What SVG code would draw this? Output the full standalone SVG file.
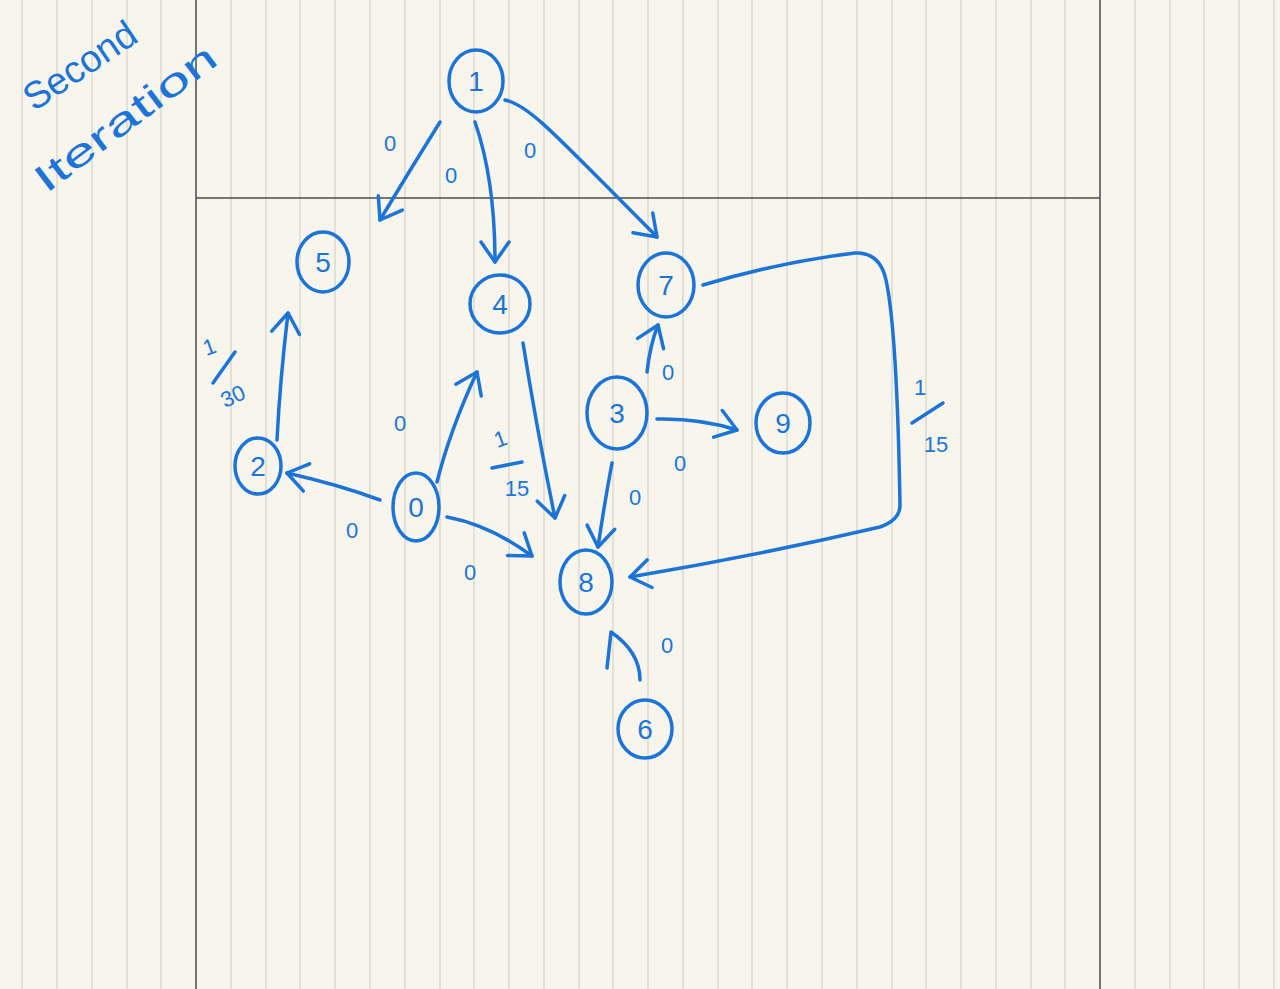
<svg xmlns="http://www.w3.org/2000/svg" width="1280" height="989" viewBox="0 0 1280 989">
<defs>
<style>
.paper{fill:#f8f6ec}
.rule{stroke:#dcd8cc;stroke-width:1.5}
.frame{stroke:#4a4a4a;stroke-width:1.5}
.ink{stroke:#1b74d6;stroke-width:3.5;fill:none;stroke-linecap:round;stroke-linejoin:round}
.node{stroke:#1b74d6;stroke-width:3.5;fill:none}
.nt{font-family:"Liberation Sans",Arial,sans-serif;font-size:28px;fill:#1b74d6;text-anchor:middle}
.lt{font-family:"Liberation Sans",Arial,sans-serif;font-size:22px;fill:#1b74d6;text-anchor:middle}
.title{font-family:"Liberation Sans",Arial,sans-serif;font-size:38px;fill:#1b74d6}
</style>
<marker id="ah" viewBox="-26 -18 30 36" refX="0" refY="0" markerWidth="30" markerHeight="36" markerUnits="userSpaceOnUse" orient="auto">
<path d="M-20,-14 L0,0 L-20,14" fill="none" stroke="#1b74d6" stroke-width="3.5" stroke-linecap="round" stroke-linejoin="round"/>
</marker>
</defs>
<g id="paper">
<rect class="paper" x="0" y="0" width="1280" height="989"/>
<g class="rule">
<line x1="22" y1="0" x2="22" y2="989"/>
<line x1="57" y1="0" x2="57" y2="989"/>
<line x1="92" y1="0" x2="92" y2="989"/>
<line x1="127" y1="0" x2="127" y2="989"/>
<line x1="161" y1="0" x2="161" y2="989"/>
<line x1="231" y1="0" x2="231" y2="989"/>
<line x1="266" y1="0" x2="266" y2="989"/>
<line x1="300" y1="0" x2="300" y2="989"/>
<line x1="335" y1="0" x2="335" y2="989"/>
<line x1="370" y1="0" x2="370" y2="989"/>
<line x1="405" y1="0" x2="405" y2="989"/>
<line x1="440" y1="0" x2="440" y2="989"/>
<line x1="474" y1="0" x2="474" y2="989"/>
<line x1="509" y1="0" x2="509" y2="989"/>
<line x1="544" y1="0" x2="544" y2="989"/>
<line x1="579" y1="0" x2="579" y2="989"/>
<line x1="613" y1="0" x2="613" y2="989"/>
<line x1="648" y1="0" x2="648" y2="989"/>
<line x1="683" y1="0" x2="683" y2="989"/>
<line x1="718" y1="0" x2="718" y2="989"/>
<line x1="752" y1="0" x2="752" y2="989"/>
<line x1="787" y1="0" x2="787" y2="989"/>
<line x1="822" y1="0" x2="822" y2="989"/>
<line x1="857" y1="0" x2="857" y2="989"/>
<line x1="892" y1="0" x2="892" y2="989"/>
<line x1="926" y1="0" x2="926" y2="989"/>
<line x1="961" y1="0" x2="961" y2="989"/>
<line x1="996" y1="0" x2="996" y2="989"/>
<line x1="1031" y1="0" x2="1031" y2="989"/>
<line x1="1065" y1="0" x2="1065" y2="989"/>
<line x1="1135" y1="0" x2="1135" y2="989"/>
<line x1="1170" y1="0" x2="1170" y2="989"/>
<line x1="1204" y1="0" x2="1204" y2="989"/>
<line x1="1239" y1="0" x2="1239" y2="989"/>
<line x1="1274" y1="0" x2="1274" y2="989"/>
</g>
<g class="frame">
<line x1="196" y1="0" x2="196" y2="989"/>
<line x1="1100" y1="0" x2="1100" y2="989"/>
<line x1="196" y1="198" x2="1100" y2="198"/>
</g>
</g>
<g id="title">
<text class="title" transform="translate(34,112) rotate(-34)" textLength="128" lengthAdjust="spacingAndGlyphs">Second</text>
<text class="title" transform="translate(46,194) rotate(-37)" textLength="218" lengthAdjust="spacingAndGlyphs">Iteration</text>
</g>
<g id="connectors">
<path class="ink" marker-end="url(#ah)" d="M440,122 Q410,170 380,220"/>
<path class="ink" marker-end="url(#ah)" d="M475,122 Q495,180 495,262"/>
<path class="ink" marker-end="url(#ah)" d="M505,100 C530,105 560,140 657,237"/>
<path class="ink" marker-end="url(#ah)" d="M277,440 Q280,380 288,313"/>
<path class="ink" marker-end="url(#ah)" d="M380,500 Q340,485 287,473"/>
<path class="ink" marker-end="url(#ah)" d="M437,482 Q450,430 477,372"/>
<path class="ink" marker-end="url(#ah)" d="M523,343 Q537,430 555,518"/>
<path class="ink" marker-end="url(#ah)" d="M447,517 Q490,525 532,556"/>
<path class="ink" marker-end="url(#ah)" d="M647,372 Q650,345 658,325"/>
<path class="ink" marker-end="url(#ah)" d="M657,419 Q700,418 737,430"/>
<path class="ink" marker-end="url(#ah)" d="M612,463 Q605,500 598,547"/>
<path class="ink" marker-end="url(#ah)" d="M703,285 Q780,262 855,253 Q880,252 886,280 Q897,330 900,505 Q900,520 880,527 Q760,555 630,577"/>
<path class="ink" d="M607,668 L611,632 Q640,652 640,680"/>
</g>
<g id="edge-labels">
<text class="lt" x="390" y="151">0</text>
<text class="lt" x="451" y="183">0</text>
<text class="lt" x="530" y="158">0</text>
<text class="lt" x="400" y="431">0</text>
<text class="lt" x="352" y="538">0</text>
<text class="lt" x="470" y="580">0</text>
<text class="lt" x="668" y="380">0</text>
<text class="lt" x="680" y="471">0</text>
<text class="lt" x="635" y="505">0</text>
<text class="lt" x="667" y="653">0</text>
<g id="w-2-5">
<text class="lt" transform="translate(212,354) rotate(-20)">1</text>
<path class="ink" d="M235,352 L213,383"/>
<text class="lt" transform="translate(236,403) rotate(-25)">30</text>
</g>
<g id="w-4-8">
<text class="lt" transform="translate(503,446) rotate(-20)">1</text>
<path class="ink" d="M492,468 L522,462"/>
<text class="lt" x="517" y="496">15</text>
</g>
<g id="w-7-8">
<text class="lt" x="920" y="395">1</text>
<path class="ink" d="M943,403 L912,423"/>
<text class="lt" x="936" y="452">15</text>
</g>
</g>
<g id="node-1"><ellipse class="node" cx="476" cy="81" rx="27" ry="31"/><text class="nt" x="476" y="91">1</text></g>
<g id="node-5"><ellipse class="node" cx="323" cy="262" rx="26" ry="30"/><text class="nt" x="323" y="272">5</text></g>
<g id="node-4"><ellipse class="node" cx="500" cy="304" rx="30" ry="29"/><text class="nt" x="500" y="314">4</text></g>
<g id="node-7"><ellipse class="node" cx="666" cy="285" rx="28" ry="32"/><text class="nt" x="666" y="295">7</text></g>
<g id="node-3"><ellipse class="node" cx="617" cy="413" rx="30" ry="36"/><text class="nt" x="617" y="423">3</text></g>
<g id="node-9"><ellipse class="node" cx="783" cy="423" rx="27" ry="30"/><text class="nt" x="783" y="433">9</text></g>
<g id="node-2"><ellipse class="node" cx="258" cy="466" rx="23" ry="28"/><text class="nt" x="258" y="476">2</text></g>
<g id="node-0"><ellipse class="node" cx="416" cy="507" rx="23" ry="34"/><text class="nt" x="416" y="517">0</text></g>
<g id="node-8"><ellipse class="node" cx="586" cy="582" rx="26" ry="32"/><text class="nt" x="586" y="592">8</text></g>
<g id="node-6"><ellipse class="node" cx="645" cy="729" rx="27" ry="29"/><text class="nt" x="645" y="739">6</text></g>
</svg>
